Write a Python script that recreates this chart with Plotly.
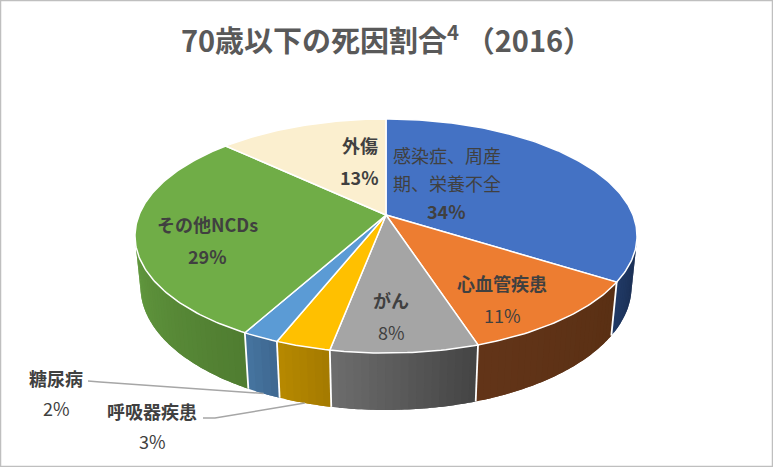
import numpy as np
import plotly.graph_objects as go

# データ: 死因カテゴリと割合 (%)
categories = ["感染症、周産期、栄養不全", "心血管疾患", "がん", "呼吸器疾患",
              "糖尿病", "その他NCDs", "外傷"]
shares = [34, 11, 8, 3, 2, 29, 13]
title_text = "70歳以下の死因割合<sup>4</sup> （2016）"

# 色 (上面 / 側面の左端・右端)
top_colors = ["#4472C4", "#ED7D31", "#A5A5A5", "#FFC000", "#5B9BD5", "#70AD47", "#FBEFCF"]
side_colors = [("#213A66", "#1A2E52"), ("#633519", "#5A3014"), ("#6E6E6E", "#444444"),
               ("#B88A00", "#A47A00"), ("#4775A1", "#3E6890"), ("#62993F", "#507D31"),
               ("#C9BFA5", "#B8AE95")]
FONT = "Noto Sans CJK JP"
TEXT_COLOR = "#404040"
W, H = 773, 467

# 3D パイの透視投影パラメータ (ピクセル単位)
CX, CY = 386, 215
FOCAL, DIST = 1222.6, 4.951
TILT = np.radians(27.3)
DEPTH = 0.232
sin_t, cos_t = np.sin(TILT), np.cos(TILT)


def project(phi, r=1.0, z=0.0):
    X, Y = r * np.cos(phi), r * np.sin(phi)
    d = DIST + Y * cos_t - z * sin_t
    return CX + FOCAL * X / d, CY - FOCAL * (Y * sin_t + z * cos_t) / d


def hex2rgb(h):
    return np.array([int(h[i:i + 2], 16) for i in (1, 3, 5)], dtype=float)


# 12時から時計回り
frac = np.array(shares) / sum(shares)
bounds = np.pi / 2 - 2 * np.pi * np.concatenate([[0], np.cumsum(frac)])
mids = (bounds[:-1] + bounds[1:]) / 2
a = np.arcsin(1 / (DIST * cos_t))
vis_lo, vis_hi = -np.pi + a, -a

fig = go.Figure()

# 側面 (グラデーションを重なり合う細い帯で表現)
for i in range(len(shares)):
    lo, hi = max(bounds[i + 1], vis_lo), min(bounds[i], vis_hi)
    if lo >= hi:
        continue
    c0, c1 = hex2rgb(side_colors[i][0]), hex2rgb(side_colors[i][1])
    n = max(2, int(np.degrees(hi - lo) / 1.5))
    edges = np.linspace(lo, hi, n + 1)
    for k in range(n):
        t = (k + 0.5) / n
        col = "rgb(%d,%d,%d)" % tuple(c0 * (1 - t) + c1 * t)
        ph = np.linspace(edges[k], edges[min(k + 2, n)] if k < n - 1 else edges[n], 5)
        xt, yt = project(ph)
        xb, yb = project(ph[::-1], z=-DEPTH)
        fig.add_trace(go.Scatter(x=np.r_[xt, xb], y=np.r_[yt, yb], fill="toself",
                                 fillcolor=col, mode="none",
                                 hoverinfo="skip", showlegend=False))

# 側面の区切り線 (白)
sx, sy = [], []
for b in bounds:
    if vis_lo < b < vis_hi:
        x0, y0 = project(b)
        x1, y1 = project(b, z=-DEPTH)
        sx += [x0, x1, None]
        sy += [y0, y1, None]
fig.add_trace(go.Scatter(x=sx, y=sy, mode="lines", line=dict(color="white", width=1.8),
                         hoverinfo="skip", showlegend=False))

# 上面
cx0, cy0 = project(0.0, r=0.0)
for i in range(len(shares)):
    ph = np.linspace(bounds[i], bounds[i + 1], max(4, shares[i] * 4))
    x, y = project(ph)
    fig.add_trace(go.Scatter(x=np.r_[cx0, x, cx0], y=np.r_[cy0, y, cy0], fill="toself",
                             fillcolor=top_colors[i], mode="lines",
                             line=dict(color="white", width=1.5),
                             hoverinfo="skip", showlegend=False, name=categories[i]))

# ラベル
label_r = [0.4, 0.75, 0.75, None, None, 0.75, 0.45]
label_nudge = [(-23, -11), (-11, 9), (-8, 3), None, None, (8, 11), (15, -10)]
name_weight = ["normal", "bold", "bold", "bold", "bold", "bold", "bold"]
pct_weight = ["bold", "normal", "normal", "normal", "normal", "bold", "bold"]
outside_pos = {3: (152, 411), 4: (56, 378)}
leader_start = {3: [(203, 418), (215, 418)], 4: [(88, 381), (100, 382)]}


def add_text(x, y, text, weight):
    fig.add_annotation(x=x, y=y, text=text, showarrow=False, xanchor="center",
                       yanchor="middle",
                       font=dict(family=FONT, size=18, color=TEXT_COLOR, weight=weight))


for i, name in enumerate(categories):
    pct = f"{shares[i]}%"
    if label_r[i] is not None:
        lx, ly = project(mids[i], r=label_r[i])
        lx += label_nudge[i][0]
        ly += label_nudge[i][1]
        lines = [name[j:j + 6] for j in range(0, len(name), 6)] if len(name) > 7 else [name]
        gap = 28 if len(lines) > 1 else 32
        rows = lines + [pct]
        top = ly - gap * (len(rows) - 1) / 2
        for j, row in enumerate(rows):
            w = name_weight[i] if j < len(lines) else pct_weight[i]
            add_text(lx, top + gap * j, row, w)
    else:
        tx, ty = outside_pos[i]
        add_text(tx, ty, name, name_weight[i])
        add_text(tx, ty + 30, pct, pct_weight[i])
        ex, ey = project(mids[i], z=-DEPTH)
        pts = leader_start[i] + [(ex, ey)]
        fig.add_trace(go.Scatter(x=[p[0] for p in pts], y=[p[1] for p in pts], mode="lines",
                                 line=dict(color="#A6A6A6", width=1.5),
                                 hoverinfo="skip", showlegend=False))

fig.update_layout(
    width=W, height=H, autosize=False,
    margin=dict(l=0, r=0, t=0, b=0, pad=0),
    paper_bgcolor="white", plot_bgcolor="white",
    title=dict(text=title_text, x=0.5, xanchor="center", y=1 - 42 / H, yanchor="middle",
               font=dict(family=FONT, size=29, color="#595959", weight="bold")),
    xaxis=dict(range=[0, W], visible=False, fixedrange=True),
    yaxis=dict(range=[H, 0], visible=False, fixedrange=True),
    shapes=[dict(type="rect", xref="paper", yref="paper", x0=0, y0=0, x1=1, y1=1,
                 line=dict(color="#BFBFBF", width=2.5))],
)

fig.write_html("out.html", config={"displayModeBar": False},
               post_script="document.body.style.margin='0';")
